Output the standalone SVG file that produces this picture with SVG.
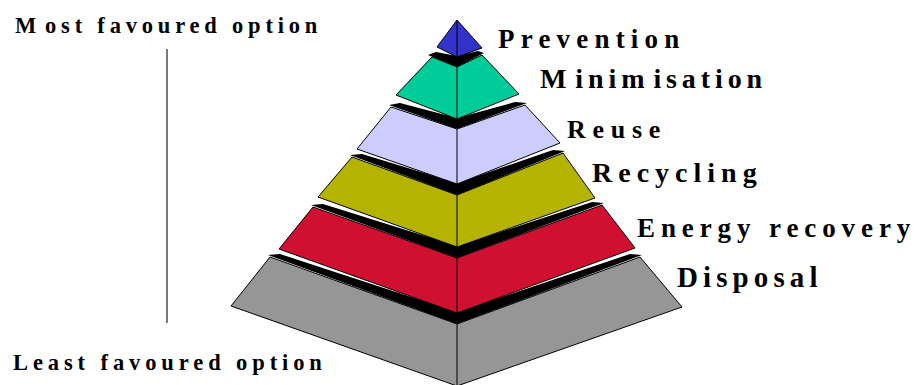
<svg xmlns="http://www.w3.org/2000/svg" width="921" height="385" viewBox="0 0 921 385">
<style>
.lbl{font-family:"Liberation Serif","Times New Roman",serif;font-weight:bold;fill:#000}
.face{stroke:#000;stroke-width:1;stroke-linejoin:miter}
.band{fill:#000}
.edge{stroke:#000;stroke-width:1}
</style>
<rect width="921" height="385" fill="#fff"/>
<g id="connectors">
<line x1="167" y1="49" x2="167" y2="323" stroke="#333" stroke-width="1.3"/>
</g>
<g id="most-favoured">
<text class="lbl" x="15" y="33" font-size="22.5" letter-spacing="4.8">M<tspan dx="4">ost favoured option</tspan></text>
</g>
<g id="least-favoured">
<text class="lbl" x="13" y="370" font-size="22.5" letter-spacing="4.9">Least favoured option</text>
</g>
<g id="disposal">
<polygon class="band" points="268,255 280,254 457,312 630,254 642,255 457,324"/>
<polygon class="face" fill="#969696" points="270,257 457,324 640,257 682,307 457,386 231,306"/>
<line class="edge" x1="457" y1="324" x2="457" y2="386"/>
<text class="lbl" x="677" y="287" font-size="29" letter-spacing="5.1">Disposal</text>
</g>
<g id="energy-recovery">
<polygon class="band" points="311,205 323,204 457,246 592,202 604,203 457,258"/>
<polygon class="face" fill="#d01030" points="313,207 457,258 602,205 635,248 457,313 279,249"/>
<line class="edge" x1="457" y1="258" x2="457" y2="313"/>
<text class="lbl" x="637" y="237" font-size="27" letter-spacing="5.9">Energy recovery</text>
</g>
<g id="recycling">
<polygon class="band" points="350,155 362,154 457,183 553,150 565,151 457,195"/>
<polygon class="face" fill="#b4b400" points="352,157 457,195 563,153 595,198 457,247 318,197"/>
<line class="edge" x1="457" y1="195" x2="457" y2="247"/>
<text class="lbl" x="592" y="182" font-size="28" letter-spacing="6">Recycling</text>
</g>
<g id="reuse">
<polygon class="band" points="389,105 400,103 457,118 515,102 527,103 457,129"/>
<polygon class="face" fill="#ccccff" points="391,107 457,129 525,105 560,143 457,184 357,149"/>
<line class="edge" x1="457" y1="129" x2="457" y2="184"/>
<text class="lbl" x="567" y="138" font-size="26" letter-spacing="6.7">Reuse</text>
</g>
<g id="minimisation">
<polygon class="band" points="428,55 436,52 457,56 478,51 484,53 457,67"/>
<polygon class="face" fill="#00cc99" points="432,57 457,67 482,55 519,94 457,119 396,95"/>
<line class="edge" x1="457" y1="67" x2="457" y2="119"/>
<text class="lbl" x="540" y="88" font-size="28" letter-spacing="4.9">M<tspan dx="4">inim</tspan><tspan dx="4">isation</tspan></text>
</g>
<g id="prevention">
<polygon class="face" fill="#3333cc" points="457,20 482,48 457,57 437,47"/>
<line class="edge" x1="457" y1="20" x2="457" y2="57"/>
<text class="lbl" x="498" y="48" font-size="27" letter-spacing="6.2">Prevention</text>
</g>
</svg>
